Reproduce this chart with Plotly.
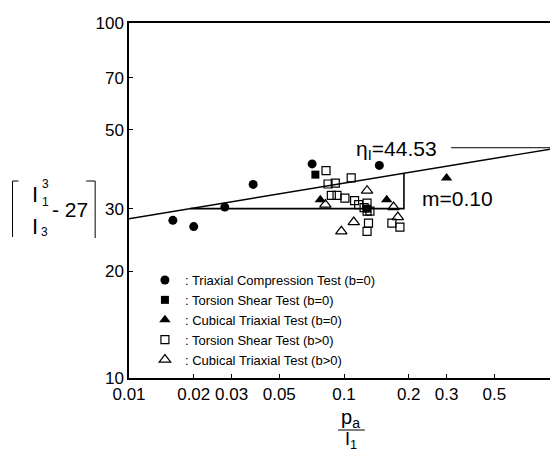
import math
import plotly.graph_objects as go

# ---- data ----
tc_x = [0.0160, 0.0200, 0.0279, 0.0378, 0.0711, 0.146]
tc_y = [27.8, 26.7, 30.3, 35.1, 40.1, 39.7]

ts0_x = [0.0736, 0.128]
ts0_y = [37.4, 30.0]

ct0_x = [0.0776, 0.158, 0.300]
ct0_y = [31.8, 31.8, 36.6]

ts1_x = [0.0825, 0.0843, 0.0911, 0.108, 0.0873, 0.0928, 0.101, 0.112, 0.128,
         0.117, 0.128, 0.132, 0.124, 0.130, 0.128, 0.167, 0.182]
ts1_y = [38.4, 35.2, 35.4, 36.6, 32.7, 32.7, 32.1, 31.6, 31.1,
         30.8, 29.5, 29.5, 30.2, 27.3, 25.9, 27.3, 26.6]

ct1_x = [0.128, 0.0819, 0.170, 0.178, 0.111, 0.0972]
ct1_y = [33.7, 30.8, 30.3, 28.4, 27.5, 25.9]

fit_x = [0.01, 1.0]
fit_y = [28.1, 44.53]
eta = 44.53
slope_x = [0.0193, 0.19, 0.19]
slope_y = [30.0, 30.0, 37.7]
arrow_from_x = 0.31

x_ticks = [0.01, 0.02, 0.03, 0.05, 0.1, 0.2, 0.3, 0.5, 1]
x_ticklabels = ["0.01", "0.02", "0.03", "0.05", "0.1", "0.2", "0.3", "0.5", ""]
x_last_label = "1"
y_ticks = [10, 20, 30, 50, 70, 100]
y_ticklabels = ["10", "20", "30", "50", "70", "100"]

# ---- layout geometry ----
W, H = 558, 453
L, R, T, B = 121, 5, 15, 83
PW, PH = W - L - R, H - T - B
def px(xp):
    return (xp - L) / PW
def py(yp):
    return (H - B - yp) / PH

FONT = "Liberation Sans, Arial, sans-serif"

fig = go.Figure()

fig.add_trace(go.Scatter(x=fit_x, y=fit_y, mode="lines",
                         line=dict(color="black", width=1.4), showlegend=False, hoverinfo="skip"))
fig.add_trace(go.Scatter(x=slope_x, y=slope_y, mode="lines",
                         line=dict(color="black", width=1.6), showlegend=False, hoverinfo="skip"))

fig.add_trace(go.Scatter(x=tc_x, y=tc_y, mode="markers", name=": Triaxial Compression Test (b=0)",
                         marker=dict(symbol="circle", size=9, color="black")))
fig.add_trace(go.Scatter(x=ts0_x, y=ts0_y, mode="markers", name=": Torsion Shear Test (b=0)",
                         marker=dict(symbol="square", size=8, color="black")))
fig.add_trace(go.Scatter(x=ct0_x, y=ct0_y, mode="markers", name=": Cubical Triaxial Test (b=0)",
                         marker=dict(symbol="triangle-up", size=10, color="black")))
fig.add_trace(go.Scatter(x=ts1_x, y=ts1_y, mode="markers", name=": Torsion Shear Test (b>0)",
                         marker=dict(symbol="square-open", size=8, color="black", line=dict(width=1.2))))
fig.add_trace(go.Scatter(x=ct1_x, y=ct1_y, mode="markers", name=": Cubical Triaxial Test (b>0)",
                         marker=dict(symbol="triangle-up-open", size=10, color="black", line=dict(width=1.2))))

def txt(xp, yp, s, size, xanchor="center"):
    return dict(x=px(xp), y=py(yp), xref="paper", yref="paper", showarrow=False,
                xanchor=xanchor, yanchor="middle", text=s,
                font=dict(family=FONT, size=size, color="black"))

annotations = [
    dict(x=0, y=math.log10(eta), ax=math.log10(arrow_from_x), ay=math.log10(eta),
         xref="x", yref="y", axref="x", ayref="y", text="", showarrow=True,
         arrowhead=2, arrowsize=1.6, arrowwidth=1, arrowcolor="black", standoff=0),
    txt(390, 142, "η<sub>I</sub>=44.53", 21),
    txt(451, 190, "m=0.10", 21),
    # y-axis title pieces
    txt(27, 186, "I", 22),
    txt(37, 176, "3", 12),
    txt(37, 194, "1", 12),
    txt(27, 218, "I", 22),
    txt(36, 224, "3", 12),
    txt(62, 201, "- 27", 21),
    # x-axis title pieces
    txt(344, 410, "p<sub>a</sub>", 20),
    txt(344, 432, "I<sub>1</sub>", 18),
    # last x tick label, kept inside the page
    txt(554, 385, x_last_label, 17, xanchor="right"),
]

shapes = [
    dict(type="line", xref="paper", yref="paper", x0=px(4), x1=px(4), y0=py(173), y1=py(229),
         line=dict(color="black", width=1)),
    dict(type="line", xref="paper", yref="paper", x0=px(4), x1=px(10), y0=py(173), y1=py(173),
         line=dict(color="black", width=1)),
    dict(type="line", xref="paper", yref="paper", x0=px(87), x1=px(87), y0=py(173), y1=py(230),
         line=dict(color="black", width=1)),
    dict(type="line", xref="paper", yref="paper", x0=px(78), x1=px(87), y0=py(173), y1=py(173),
         line=dict(color="black", width=1)),
    dict(type="line", xref="paper", yref="paper", x0=px(331), x1=px(358), y0=py(422), y1=py(422),
         line=dict(color="black", width=1)),
]

fig.update_layout(
    width=W, height=H, margin=dict(l=L, r=R, t=T, b=B),
    paper_bgcolor="white", plot_bgcolor="white",
    font=dict(family=FONT, size=17, color="black"),
    showlegend=True,
    legend=dict(x=px(137), y=py(257), xanchor="left", yanchor="top",
                bgcolor="rgba(0,0,0,0)", font=dict(family=FONT, size=13, color="black"),
                itemwidth=30, tracegroupgap=0),
    annotations=annotations, shapes=shapes,
)
fig.update_xaxes(type="log", range=[-2, 0], tickvals=x_ticks, ticktext=x_ticklabels,
                 showgrid=False, zeroline=False, showline=True, linecolor="black", linewidth=1.5,
                 mirror=True, ticks="inside", ticklen=4, tickcolor="black",
                 tickfont=dict(family=FONT, size=17, color="black"))
fig.update_yaxes(type="log", range=[1, 2], tickvals=y_ticks, ticktext=y_ticklabels,
                 showgrid=False, zeroline=False, showline=True, linecolor="black", linewidth=1.5,
                 mirror=True, ticks="inside", ticklen=4, tickcolor="black",
                 tickfont=dict(family=FONT, size=17, color="black"))

fig.write_html("out.html")
